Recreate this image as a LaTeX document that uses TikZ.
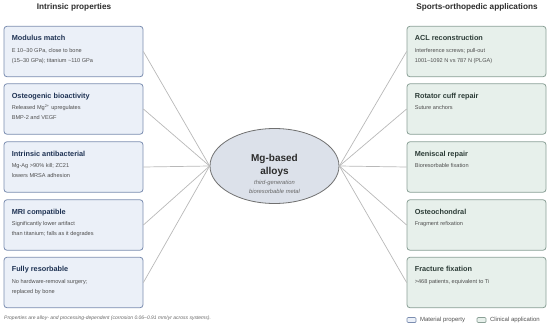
\documentclass[tikz,border=0pt]{standalone}
\usepackage{fontspec}
\setmainfont{Liberation Sans}
\usepackage{tikz}
\usetikzlibrary{positioning,shapes.geometric}

\definecolor{propfill}{HTML}{EBF0F8}
\definecolor{propdraw}{HTML}{7B8DB0}
\definecolor{proptitle}{HTML}{1F3354}
\definecolor{appfill}{HTML}{E7F0EB}
\definecolor{appdraw}{HTML}{8AA096}
\definecolor{apptitle}{HTML}{2C3C37}
\definecolor{bodytext}{HTML}{4F4F4F}
\definecolor{hubfill}{HTML}{DCE1EA}
\definecolor{hubdraw}{HTML}{707070}
\definecolor{linkgray}{HTML}{B8B8B8}
\definecolor{headcol}{HTML}{2B2B2B}
\definecolor{notegray}{HTML}{666666}

\tikzset{
  propbox/.style={draw=propdraw, fill=propfill, rounded corners=3pt, line width=0.8pt,
    minimum width=139pt, minimum height=50.5pt, inner sep=0pt},
  appbox/.style={propbox, draw=appdraw, fill=appfill},
  boxtext/.style={align=left, inner sep=0pt, font=\fontsize{5.6}{10}\selectfont, text=bodytext},
  link/.style={draw=linkgray, line width=0.7pt},
  head/.style={font=\fontsize{8.2}{10}\selectfont\bfseries, text=headcol, inner sep=0pt},
  legtext/.style={font=\fontsize{6}{7}\selectfont, text=bodytext, inner sep=0pt},
}

\begin{document}
\begin{tikzpicture}[x=1pt, y=-1pt]

\useasboundingbox (0,0) rectangle (550,327);

\node[head] (lhead) at (74,7) {Intrinsic properties};
\node[head] (rhead) at (477,7) {Sports-orthopedic applications};

% hub
\node[ellipse, draw=hubdraw, fill=hubfill, line width=0.8pt, minimum width=129pt,
  minimum height=75pt, inner sep=0pt] (mg) at (274.5,166) {};
\node[align=center, inner sep=0pt, font=\fontsize{5.8}{9}\selectfont\itshape, text=notegray] (mgt) at (274.5,174)
  {{\fontsize{10}{12}\selectfont\bfseries\upshape\color{headcol}Mg-based}\\[3pt]
   {\fontsize{10}{12}\selectfont\bfseries\upshape\color{headcol}alloys}\\[1pt]
   third-generation\\bioresorbable metal};

% material properties
\node[propbox] (mod) at (73.5,51.5) {};
\node[boxtext, below right=9.5pt and 8pt of mod.north west] (modt)
  {{\fontsize{7.3}{9}\selectfont\bfseries\color{proptitle}Modulus match}\\[1.5pt]
   E 10--30 GPa, close to bone\\(15--30 GPa); titanium \textasciitilde110 GPa};

\node[propbox] (ost) at (73.5,109) {};
\node[boxtext, below right=9.5pt and 8pt of ost.north west] (ostt)
  {{\fontsize{7.3}{9}\selectfont\bfseries\color{proptitle}Osteogenic bioactivity}\\[1.5pt]
   Released Mg\textsuperscript{2+} upregulates\\BMP-2 and VEGF};

\node[propbox] (abc) at (73.5,167) {};
\node[boxtext, below right=9.5pt and 8pt of abc.north west] (abct)
  {{\fontsize{7.3}{9}\selectfont\bfseries\color{proptitle}Intrinsic antibacterial}\\[1.5pt]
   Mg-Ag >90\% kill; ZC21\\lowers MRSA adhesion};

\node[propbox] (mri) at (73.5,225) {};
\node[boxtext, below right=9.5pt and 8pt of mri.north west] (mrit)
  {{\fontsize{7.3}{9}\selectfont\bfseries\color{proptitle}MRI compatible}\\[1.5pt]
   Significantly lower artifact\\than titanium; falls as it degrades};

\node[propbox] (res) at (73.5,282.5) {};
\node[boxtext, below right=9.5pt and 8pt of res.north west] (rest)
  {{\fontsize{7.3}{9}\selectfont\bfseries\color{proptitle}Fully resorbable}\\[1.5pt]
   No hardware-removal surgery;\\replaced by bone};

% clinical applications
\node[appbox] (acl) at (476.5,51.5) {};
\node[boxtext, below right=9.5pt and 8pt of acl.north west] (aclt)
  {{\fontsize{7.3}{9}\selectfont\bfseries\color{apptitle}ACL reconstruction}\\[1.5pt]
   Interference screws; pull-out\\1001--1092 N vs 787 N (PLGA)};

\node[appbox] (rot) at (476.5,109) {};
\node[boxtext, below right=9.5pt and 8pt of rot.north west] (rott)
  {{\fontsize{7.3}{9}\selectfont\bfseries\color{apptitle}Rotator cuff repair}\\[1.5pt]
   Suture anchors};

\node[appbox] (men) at (476.5,167) {};
\node[boxtext, below right=9.5pt and 8pt of men.north west] (ment)
  {{\fontsize{7.3}{9}\selectfont\bfseries\color{apptitle}Meniscal repair}\\[1.5pt]
   Bioresorbable fixation};

\node[appbox] (och) at (476.5,225) {};
\node[boxtext, below right=9.5pt and 8pt of och.north west] (ocht)
  {{\fontsize{7.3}{9}\selectfont\bfseries\color{apptitle}Osteochondral}\\[1.5pt]
   Fragment refixation};

\node[appbox] (frx) at (476.5,282.5) {};
\node[boxtext, below right=9.5pt and 8pt of frx.north west] (frxt)
  {{\fontsize{7.3}{9}\selectfont\bfseries\color{apptitle}Fracture fixation}\\[1.5pt]
   >468 patients, equivalent to Ti};

% spokes
\draw[link] (mod.east) -- (mg.west);
\draw[link] (ost.east) -- (mg.west);
\draw[link] (abc.east) -- (mg.west);
\draw[link] (mri.east) -- (mg.west);
\draw[link] (res.east) -- (mg.west);
\draw[link] (acl.west) -- (mg.east);
\draw[link] (rot.west) -- (mg.east);
\draw[link] (men.west) -- (mg.east);
\draw[link] (och.west) -- (mg.east);
\draw[link] (frx.west) -- (mg.east);

\node[anchor=west, inner sep=0pt, font=\fontsize{5}{6}\selectfont\itshape, text=notegray] (note) at (4,318)
  {Properties are alloy- and processing-dependent (corrosion 0.06--0.91 mm/yr across systems).};

% legend
\node[draw=propdraw, fill=propfill, rounded corners=1pt, line width=0.7pt, minimum width=9pt,
  minimum height=5pt, inner sep=0pt] (lprop) at (411.5,320) {};
\node[legtext, right=3.5pt of lprop] (lpropt) {Material property};
\node[draw=appdraw, fill=appfill, rounded corners=1pt, line width=0.7pt, minimum width=9pt,
  minimum height=5pt, inner sep=0pt] (lapp) at (481.5,320) {};
\node[legtext, right=3.5pt of lapp] (lappt) {Clinical application};

\end{tikzpicture}
\end{document}
